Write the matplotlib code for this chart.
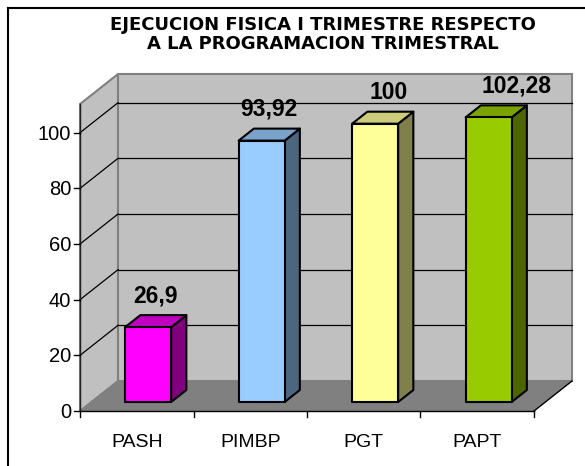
import matplotlib
matplotlib.use("Agg")
import matplotlib.pyplot as plt
from matplotlib.patches import Polygon
from matplotlib.transforms import offset_copy
from matplotlib.lines import Line2D

# ---- data ----
categories = ["PASH", "PIMBP", "PGT", "PAPT"]
values = [26.9, 93.92, 100, 102.28]
value_labels = ["26,9", "93,92", "100", "102,28"]
yticks = [0, 20, 40, 60, 80, 100]
title = "EJECUCION FISICA I TRIMESTRE RESPECTO\nA LA PROGRAMACION TRIMESTRAL"

# ---- style ----
front_colors = ["#FF00FF", "#99CCFF", "#FFFF99", "#99CC00"]
top_colors = ["#C000C0", "#7AA3CC", "#CCCC7A", "#7AA300"]
side_colors = ["#800080", "#4D6680", "#80804D", "#4D6600"]
label_dx = [0, 0, 6, 20]   # pixel nudges of value labels

W_PX, H_PX, DPI = 585, 466, 100
PX_X = 113.5     # pixels per category
PX_Y = 2.783     # pixels per value unit
X_LEFT_PX = 80   # front-left corner of plot (pixels from left)
Y_ZERO_PX = 411  # value 0 on front plane (pixels from top)
DX = 38 / PX_X   # depth offset (data units)
DY = 30 / PX_Y
WALL_TOP = 110.3
BW = 46 / PX_X
D0, D1 = 0.3, 0.7
FONT = "Liberation Sans"

fig = plt.figure(figsize=(W_PX / DPI, H_PX / DPI), dpi=DPI)
fig.patch.set_facecolor("white")
ax = fig.add_axes([0, 0, 1, 1])
ax.set_xlim(-0.5 - X_LEFT_PX / PX_X, -0.5 + (W_PX - X_LEFT_PX) / PX_X)
ax.set_ylim(-(H_PX - Y_ZERO_PX) / PX_Y, Y_ZERO_PX / PX_Y)
ax.axis("off")

n = len(categories)
xl, xr = -0.5, n - 0.5


def P(x, v, d):
    return (x + d * DX, v + d * DY)


# walls and floor
left_wall = [P(xl, 0, 0), P(xl, WALL_TOP, 0), P(xl, WALL_TOP, 1), P(xl, 0, 1)]
back_wall = [P(xl, 0, 1), P(xr, 0, 1), P(xr, WALL_TOP, 1), P(xl, WALL_TOP, 1)]
floor = [P(xl, 0, 0), P(xr, 0, 0), P(xr, 0, 1), P(xl, 0, 1)]
ax.add_patch(Polygon(left_wall, closed=True, facecolor="#C0C0C0",
                     edgecolor="#808080", lw=1.5, zorder=1))
ax.add_patch(Polygon(back_wall, closed=True, facecolor="#C0C0C0",
                     edgecolor="#808080", lw=1.5, zorder=1))
ax.add_patch(Polygon(floor, closed=True, facecolor="#808080",
                     edgecolor="none", lw=0, zorder=2))

# gridlines
for v in yticks[1:]:
    a, b = P(xl, v, 1), P(xr, v, 1)
    ax.plot([a[0], b[0]], [a[1], b[1]], color="black", lw=0.9, zorder=3)
    a, b = P(xl, v, 0), P(xl, v, 1)
    ax.plot([a[0], b[0]], [a[1], b[1]], color="black", lw=0.9, zorder=3)

# axis lines
a, b = P(xl, 0, 0), P(xr, 0, 0)
ax.plot([a[0], b[0]], [a[1], b[1]], color="black", lw=1, zorder=4)
a, b = P(xr, 0, 0), P(xr, 0, 1)
ax.plot([a[0], b[0]], [a[1], b[1]], color="black", lw=1, zorder=4)
a, b = P(xl, 0, 0), P(xl, WALL_TOP, 0)
ax.plot([a[0], b[0]], [a[1], b[1]], color="#202020", lw=1, zorder=4)

# y ticks and labels
for v in yticks:
    x0, y0 = P(xl, v, 0)
    ax.plot([x0 - 6 / PX_X, x0], [y0, y0], color="black", lw=1, zorder=4)
    tr = offset_copy(ax.transData, fig=fig, x=-9, y=-7, units="dots")
    ax.text(x0, y0, str(v), transform=tr, ha="right", va="baseline",
            fontsize=14.5, family=FONT, color="black")

# x ticks
for k in range(n + 1):
    x0, y0 = P(xl + k, 0, 0)
    ax.plot([x0, x0], [y0, y0 - 6 / PX_Y], color="black", lw=1, zorder=4)

# category labels
for i, c in enumerate(categories):
    x0, y0 = P(i, 0, 0)
    tr = offset_copy(ax.transData, fig=fig, x=0, y=-35.7, units="dots")
    ax.text(x0, y0, c, transform=tr, ha="center", va="baseline",
            fontsize=14, family=FONT, color="black")

# bars
for i, v in enumerate(values):
    l, r = i - BW / 2, i + BW / 2
    front = [P(l, 0, D0), P(r, 0, D0), P(r, v, D0), P(l, v, D0)]
    side = [P(r, 0, D0), P(r, 0, D1), P(r, v, D1), P(r, v, D0)]
    top = [P(l, v, D0), P(r, v, D0), P(r, v, D1), P(l, v, D1)]
    z = 5 + i
    ax.add_patch(Polygon(side, closed=True, facecolor=side_colors[i],
                         edgecolor="black", lw=1.5, joinstyle="round", zorder=z))
    ax.add_patch(Polygon(top, closed=True, facecolor=top_colors[i],
                         edgecolor="black", lw=1.5, joinstyle="round", zorder=z))
    ax.add_patch(Polygon(front, closed=True, facecolor=front_colors[i],
                         edgecolor="black", lw=1.5, joinstyle="round", zorder=z))
    x0, y0 = P(i, v, 0.5)
    tr = offset_copy(ax.transData, fig=fig, x=label_dx[i], y=19, units="dots")
    ax.text(x0, y0, value_labels[i], transform=tr, ha="center", va="baseline",
            fontsize=16.5, fontweight="bold", family=FONT, color="black",
            zorder=20)

# title
fig.text(323 / W_PX, 1 - 34.5 / H_PX, title, ha="center", va="center",
         multialignment="center", fontsize=13, fontweight="bold",
         family="DejaVu Sans", linespacing=1.1, color="black")

# outer frame (extends past right/bottom edges)
fig.add_artist(Line2D([7.5 / W_PX, 7.5 / W_PX], [0, 1 - 7.5 / H_PX],
                      transform=fig.transFigure, color="black", lw=1.5))
fig.add_artist(Line2D([7.5 / W_PX, 1], [1 - 7.5 / H_PX, 1 - 7.5 / H_PX],
                      transform=fig.transFigure, color="black", lw=1.5))

fig.savefig("out.png", dpi=DPI)
